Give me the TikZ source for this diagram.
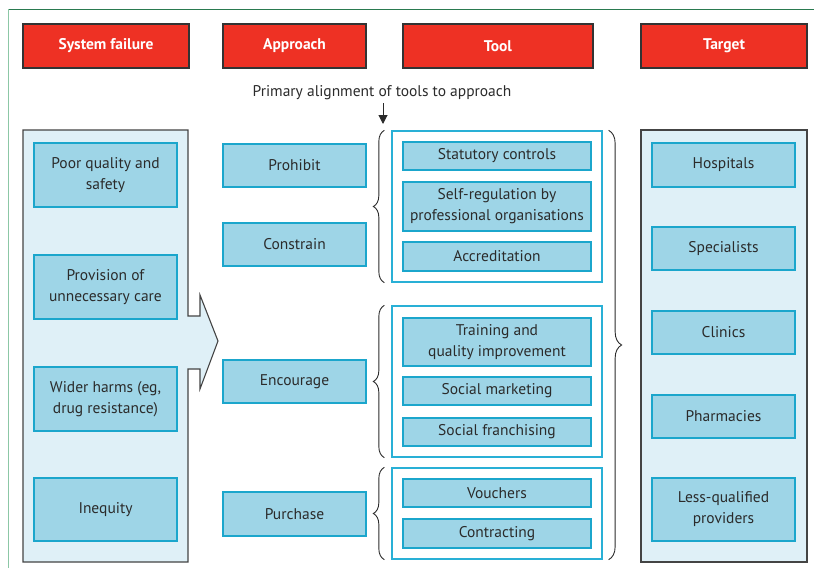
\documentclass[tikz,border=0pt]{standalone}
\usepackage{fontspec}
\setmainfont{PT Sans}
\usetikzlibrary{decorations.pathreplacing,arrows.meta}
\definecolor{hdrred}{HTML}{EE3124}
\definecolor{hdrline}{HTML}{333333}
\definecolor{boxfill}{HTML}{9ED5E7}
\definecolor{boxline}{HTML}{1BA6CC}
\definecolor{panelfill}{HTML}{DFF0F7}
\definecolor{panelline}{HTML}{444444}
\definecolor{groupline}{HTML}{29B0D6}
\definecolor{ink}{HTML}{2B2B2B}
\definecolor{framedark}{HTML}{2A7A50}
\definecolor{framelight}{HTML}{8CC7A6}
\begin{document}
\begin{tikzpicture}[x=1pt,y=-1pt,
  header/.style={draw=hdrline, fill=hdrred, line width=1.2pt, inner sep=0pt,
    text=white, font=\fontsize{15.5}{17}\selectfont\bfseries,
    minimum width=#1, minimum height=44pt},
  item/.style={draw=boxline, fill=boxfill, line width=1.3pt, inner sep=0pt,
    text=ink, align=center, font=\fontsize{15.5}{21}\selectfont,
    minimum width=#1},
  panel/.style={draw=panelline, fill=panelfill, line width=1.1pt, inner sep=0pt},
  group/.style={draw=groupline, fill=white, line width=1.3pt, inner sep=0pt,
    minimum width=210pt},
  curly/.style={draw=ink, line width=0.9pt, decorate,
    decoration={brace, amplitude=#1}},
]
\useasboundingbox (0,0) rectangle (814,568);

% outer frame
\draw[framedark, line width=0.9pt] (8,9) -- (814,9);
\draw[framelight, line width=0.9pt] (8,9) -- (8,568);

% column headings
\node[header=166pt] (hsf) at (106,46) {System failure};
\node[header=143pt] (hap) at (294.5,46) {Approach};
\node[header=190pt] (htl) at (498,46) {Tool};
\node[header=166pt] (htg) at (724,46) {Target};

% caption with its pointer
\node[text=ink, font=\fontsize{15.5}{17}\selectfont] (cap) at (382,93) {Primary alignment of tools to approach};
\coordinate (ptop) at (383,103);
\coordinate (pbot) at (383,124);
\draw[ink, line width=1pt, -{Triangle[width=9pt,length=9pt]}] (ptop) -- (pbot);

% system failure panel with its arrow
\draw[panel] (23,130) -- (188,130) -- (188,316) -- (200,316) -- (200,295)
  -- (218,341) -- (200,389) -- (200,369) -- (188,369) -- (188,562)
  -- (23,562) -- cycle;
\node[item=143pt, minimum height=64pt] (sf1) at (105.5,175) {Poor quality and\\safety};
\node[item=143pt, minimum height=64pt] (sf2) at (105.5,287) {Provision of\\unnecessary care};
\node[item=143pt, minimum height=64pt] (sf3) at (105.5,399) {Wider harms (eg,\\drug resistance)};
\node[item=143pt, minimum height=63pt] (sf4) at (105.5,509.5) {Inequity};

% approaches
\node[item=143pt, minimum height=43pt] (ap1) at (294.5,165.5) {Prohibit};
\node[item=143pt, minimum height=43pt] (ap2) at (294.5,244.5) {Constrain};
\node[item=143pt, minimum height=43pt] (ap3) at (294.5,381.5) {Encourage};
\node[item=143pt, minimum height=44pt] (ap4) at (294.5,514) {Purchase};

% tool groups
\node[group, minimum height=151pt] (g1) at (497,206.5) {};
\node[group, minimum height=151pt] (g2) at (497,381.5) {};
\node[group, minimum height=91pt] (g3) at (497,513.5) {};

\node[item=188pt, minimum height=28pt] (t1) at (497,156) {Statutory controls};
\node[item=188pt, minimum height=49pt] (t2) at (497,206.5) {Self-regulation by\\professional organisations};
\node[item=188pt, minimum height=29pt] (t3) at (497,256.5) {Accreditation};
\node[item=188pt, minimum height=48pt] (t4) at (497,342) {Training and\\quality improvement};
\node[item=188pt, minimum height=28pt] (t5) at (497,391) {Social marketing};
\node[item=188pt, minimum height=28pt] (t6) at (497,432) {Social franchising};
\node[item=188pt, minimum height=28pt] (t7) at (497,493) {Vouchers};
\node[item=188pt, minimum height=29pt] (t8) at (497,533.5) {Contracting};

% braces gathering the tools
\draw[curly=11pt] ([xshift=-7pt]g1.south west) -- ([xshift=-7pt]g1.north west);
\draw[curly=11pt] ([xshift=-7pt]g2.south west) -- ([xshift=-7pt]g2.north west);
\draw[curly=11pt] ([xshift=-7pt]g3.south west) -- ([xshift=-7pt]g3.north west);
\draw[curly=13pt] ([xshift=6pt]g1.north east) -- ([xshift=6pt]g3.south east);

% targets
\node[panel, minimum width=166pt, minimum height=432pt] (tg) at (724,346) {};
\node[item=143pt, minimum height=44pt] (tg1) at (723.5,165) {Hospitals};
\node[item=143pt, minimum height=43pt] (tg2) at (723.5,248.5) {Specialists};
\node[item=143pt, minimum height=43pt] (tg3) at (723.5,332.5) {Clinics};
\node[item=143pt, minimum height=43pt] (tg4) at (723.5,416.5) {Pharmacies};
\node[item=143pt, minimum height=63pt] (tg5) at (723.5,509.5) {Less-qualified\\providers};
\end{tikzpicture}
\end{document}
